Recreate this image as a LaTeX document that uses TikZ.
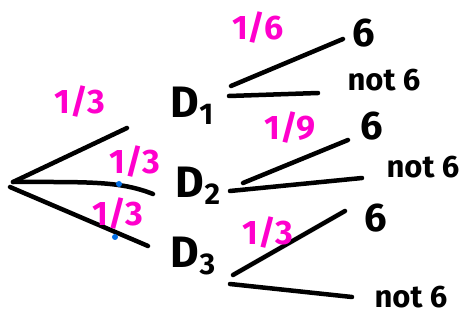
\documentclass[tikz,border=0pt]{standalone}
\usepackage{fontspec}
\setmainfont{Fira Sans}
\usetikzlibrary{positioning}

\definecolor{penpink}{RGB}{255,0,204}
\definecolor{penblue}{RGB}{0,110,230}

\newcommand{\dsub}[1]{D\raisebox{-7pt}{\fontsize{30}{30}\selectfont #1}}

\begin{document}
\begin{tikzpicture}[x=1pt, y=-1pt,
    branch/.style={line width=4.5pt, line cap=round, black},
    outcome/.style={inner sep=0pt, font=\fontsize{44}{44}\selectfont\bfseries},
    result/.style={inner sep=0pt, font=\fontsize{40}{40}\selectfont\bfseries},
    smallres/.style={inner sep=0pt, font=\fontsize{31}{31}\selectfont\bfseries},
    prob/.style={inner sep=0pt, text=penpink, font=\fontsize{34}{34}\selectfont\bfseries},
    tick/.style={circle, fill=penblue, inner sep=0pt, minimum size=6pt}
]
\useasboundingbox (0,0) rectangle (475,321);

% root
\coordinate (root) at (13,182);
\coordinate (rootb) at (10,187);

% first level nodes
\node[outcome] (d1) at (192,106) {\dsub{1}};
\node[outcome] (d2) at (198,186) {\dsub{2}};
\node[outcome] (d3) at (193,256) {\dsub{3}};

% first level branch ends
\coordinate (e1) at (127,128);
\coordinate (e2) at (153,194);
\coordinate (e3) at (148,246);

\draw[branch] (root) -- (e1);
\draw[branch] (root) .. controls (90,182) and (120,181) .. (e2);
\draw[branch] (rootb) -- (e3);

% little blue marks
\node[tick] (t2) at (119,184) {};
\node[tick] (t3) at (115,237) {};

% probabilities, first level
\node[prob] (p1) at (80,102) {1/3};
\node[prob] (p2) at (135,162) {1/3};
\node[prob] (p3) at (118,214) {1/3};

% D1 branches
\coordinate (a1) at (231,86);
\coordinate (a2) at (343,39);
\coordinate (a3) at (229,96);
\coordinate (a4) at (318,93);
\draw[branch] (a1) -- (a2);
\draw[branch] (a3) -- (a4);
\node[result] (s1) at (364,33) {6};
\node[smallres] (n1) at (384,80) {not 6};
\node[prob] (q1) at (258,28) {1/6};

% D2 branches
\coordinate (b1) at (243,183);
\coordinate (b2) at (348,140);
\coordinate (b3) at (230,191);
\coordinate (b4) at (362,178);
\draw[branch] (b1) -- (b2);
\draw[branch] (b3) -- (b4);
\node[result] (s2) at (372,126) {6};
\node[smallres] (n2) at (423,167) {not 6};
\node[prob] (q2) at (290,128) {1/9};

% D3 branches
\coordinate (c1) at (233,275);
\coordinate (c2) at (345,211);
\coordinate (c3) at (230,284);
\coordinate (c4) at (352,297);
\draw[branch] (c1) -- (c2);
\draw[branch] (c3) -- (c4);
\node[result] (s3) at (376,218) {6};
\node[smallres] (n3) at (411,297) {not 6};
\node[prob] (q3) at (268,233) {1/3};

\end{tikzpicture}
\end{document}
